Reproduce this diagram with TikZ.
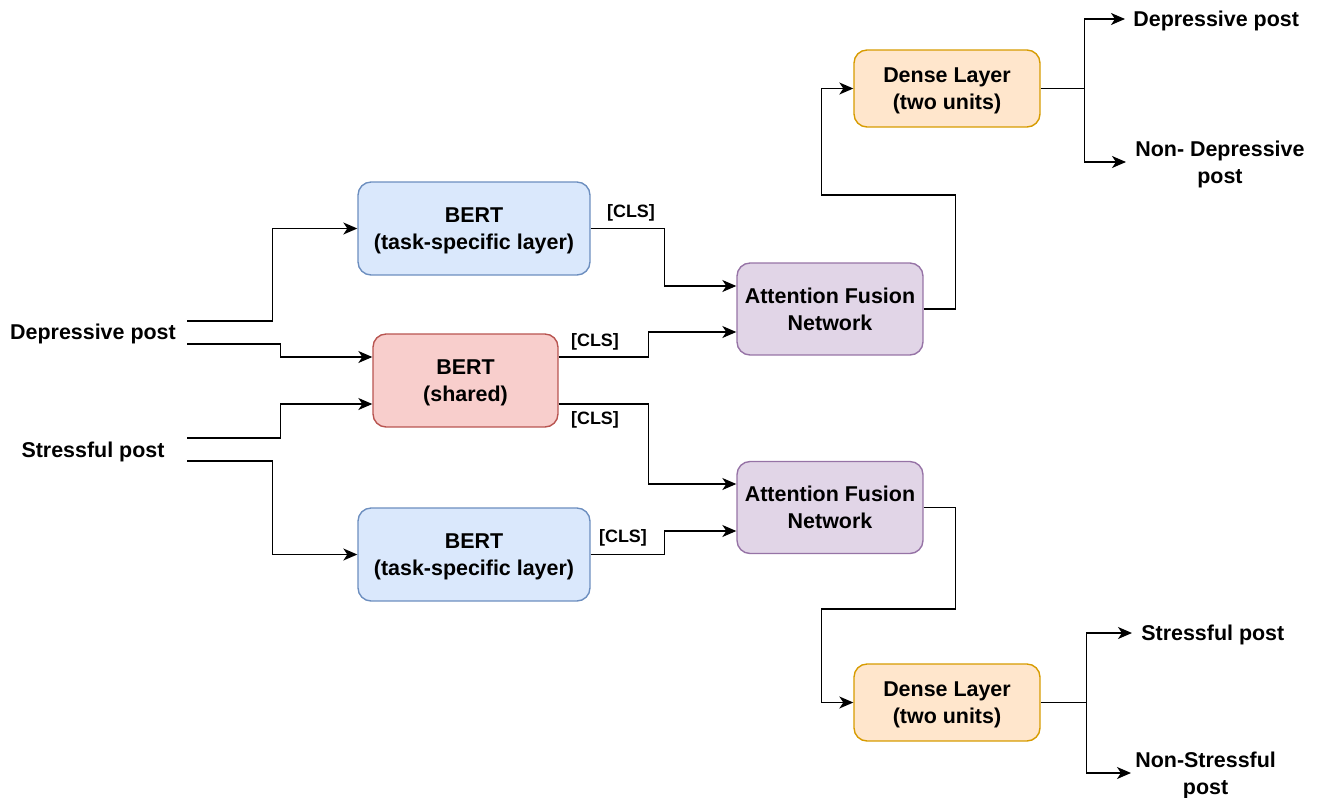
\documentclass[tikz,border=0pt]{standalone}
\usepackage{fontspec}
\setmainfont{Liberation Sans}
\usetikzlibrary{arrows.meta,calc}
\definecolor{bluef}{HTML}{DAE8FC}\definecolor{blued}{HTML}{6C8EBF}
\definecolor{redf}{HTML}{F8CECC}\definecolor{redd}{HTML}{B85450}
\definecolor{purf}{HTML}{E1D5E7}\definecolor{purd}{HTML}{9673A6}
\definecolor{orf}{HTML}{FFE6CC}\definecolor{ord}{HTML}{D79B00}
\tikzset{
  box/.style={rounded corners=0.26cm, line width=0.8pt, inner sep=0pt, align=center,
    text depth=0pt, font=\fontsize{12.2}{15.2}\selectfont\bfseries},
  bluebox/.style={box, fill=bluef, draw=blued, minimum width=4.64cm, minimum height=1.86cm},
  redbox/.style={box, fill=redf, draw=redd, minimum width=3.70cm, minimum height=1.86cm},
  purbox/.style={box, fill=purf, draw=purd, minimum width=3.72cm, minimum height=1.84cm},
  orbox/.style={box, fill=orf, draw=ord, minimum width=3.72cm, minimum height=1.54cm},
  txt/.style={inner ysep=0pt, inner xsep=0pt, align=center, text height=11.3pt, text depth=2.6pt,
    font=\fontsize{12.2}{15.2}\selectfont\bfseries},
  txttwo/.style={inner ysep=0pt, inner xsep=0pt, align=center, text depth=0pt,
    font=\fontsize{12.2}{15.2}\selectfont\bfseries},
  cls/.style={inner sep=0pt, text height=9.3pt, text depth=2pt, font=\fontsize{10.2}{12}\selectfont\bfseries},
  line/.style={line width=0.85pt, draw=black},
  arr/.style={line, -{Stealth[length=2.8mm, width=2.4mm, inset=0.8mm]}},
}
\begin{document}
\begin{tikzpicture}[x=0.02cm, y=-0.02cm]
\useasboundingbox (0,0) rectangle (1320,798);
% inputs
\node[txt, minimum width=3.76cm] (dp) at (93,332) {Depressive post};
\node[txt, minimum width=3.76cm] (sp) at (93,450) {Stressful post};
% BERT boxes
\node[bluebox] (bt) at (474,228.5) {BERT\\(task-specific layer)};
\node[redbox] (bs) at (465.5,380.5) {BERT\\(shared)};
\node[bluebox] (bb) at (474,554.5) {BERT\\(task-specific layer)};
% fusion
\node[purbox] (at) at (830,309) {Attention Fusion\\Network};
\node[purbox] (ab) at (830,507.5) {Attention Fusion\\Network};
% dense
\node[orbox] (dt) at (947,88.5) {Dense Layer\\(two units)};
\node[orbox] (db) at (947,702.5) {Dense Layer\\(two units)};
% outputs
\node[txt, anchor=west, inner xsep=0.16cm] (o1) at (1125,19) {Depressive post};
\node[txttwo, anchor=west, inner xsep=0.18cm] (o2) at (1126,162) {Non- Depressive\\post};
\node[txt, anchor=west, inner xsep=0.18cm] (o3) at (1132,633) {Stressful post};
\node[txttwo, anchor=west, inner xsep=0.08cm] (o4) at (1131,773) {Non-Stressful\\post};
% input connectors
\draw[arr] ($(dp.east)+(0,-11)$) -- ++(85,0) |- (bt.west);
\draw[arr] ($(dp.east)+(0,12)$) -- ++(93,0) |- ($(bs.west)+(0,-23.5)$);
\draw[arr] ($(sp.east)+(0,-12)$) -- ++(93,0) |- ($(bs.west)+(0,23.5)$);
\draw[arr] ($(sp.east)+(0,11)$) -- ++(85,0) |- (bb.west);
% CLS connectors
\draw[arr] (bt.east) -- ++(74,0) |- ($(at.west)+(0,-23)$);
\draw[arr] ($(bs.east)+(0,-23.5)$) -- ++(90,0) |- ($(at.west)+(0,23)$);
\draw[arr] ($(bs.east)+(0,23.5)$) -- ++(90,0) |- ($(ab.west)+(0,-23.5)$);
\draw[arr] (bb.east) -- ++(74,0) |- ($(ab.west)+(0,23.5)$);
\node[cls] (c1) at (631,211) {[CLS]};
\node[cls] (c2) at (595,340) {[CLS]};
\node[cls] (c3) at (595,418) {[CLS]};
\node[cls] (c4) at (623,536) {[CLS]};
% fusion to dense
\draw[arr] (at.east) -- ++(32,0) -- ++(0,-114) -| ($(dt.west)+(-32,0)$) -- (dt.west);
\draw[arr] (ab.east) -- ++(32,0) -- ++(0,101.5) -| ($(db.west)+(-32,0)$) -- (db.west);
% dense to outputs
\draw[line] (dt.east) -- ++(44,0) coordinate (j1);
\draw[arr] (j1) |- (o1.west);
\draw[arr] (j1) |- (o2.west);
\draw[line] (db.east) -- ++(46,0) coordinate (j2);
\draw[arr] (j2) |- (o3.west);
\draw[arr] (j2) |- (o4.west);
\end{tikzpicture}
\end{document}
